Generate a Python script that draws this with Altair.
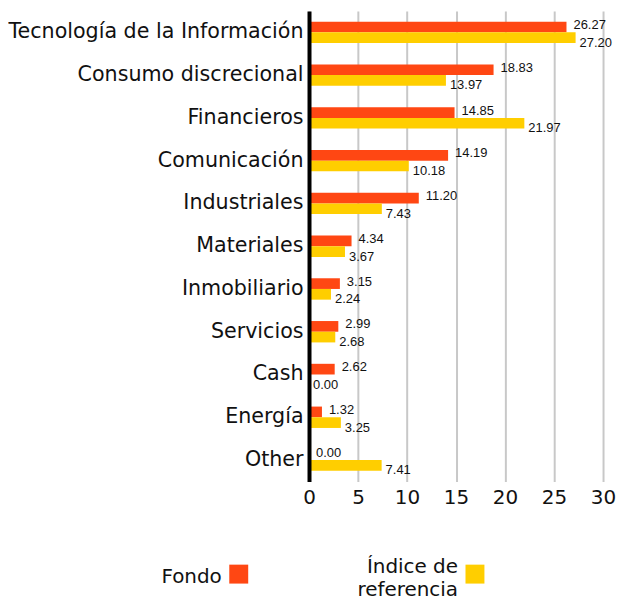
import altair as alt
import pandas as pd

categories = ["Tecnología de la Información", "Consumo discrecional", "Financieros",
              "Comunicación", "Industriales", "Materiales", "Inmobiliario",
              "Servicios", "Cash", "Energía", "Other"]
fondo = [26.27, 18.83, 14.85, 14.19, 11.20, 4.34, 3.15, 2.99, 2.62, 1.32, 0.00]
indice = [27.20, 13.97, 21.97, 10.18, 7.43, 3.67, 2.24, 2.68, 0.00, 3.25, 7.41]
series_names = ["Fondo", "Índice de referencia"]
series_legend_text = ["Fondo", "Índice de\nreferencia"]
series_colors = ["#FF4713", "#FFCE00"]
x_ticks = [0, 5, 10, 15, 20, 25, 30]

rows = []
for c, f, i in zip(categories, fondo, indice):
    rows.append({"cat": c, "series": series_names[0], "value": f, "label": f"{f:.2f}"})
    rows.append({"cat": c, "series": series_names[1], "value": i, "label": f"{i:.2f}"})
df = pd.DataFrame(rows)

FONT = "DejaVu Sans"
TXT = "#111111"

color = alt.Color("series:N", scale=alt.Scale(domain=series_names, range=series_colors), legend=None)
y = alt.Y("cat:N", sort=categories,
          scale=alt.Scale(paddingInner=0.5, paddingOuter=0.25),
          axis=alt.Axis(title=None, labelFont=FONT, labelFontSize=20.7, labelColor=TXT,
                        labelPadding=6, ticks=False, domain=True, domainColor="#000000",
                        domainWidth=4, labelLimit=400, minExtent=301, maxExtent=301,
                        zindex=1, grid=False))
x = alt.X("value:Q", scale=alt.Scale(domain=[0, 30], nice=False),
          axis=alt.Axis(values=x_ticks, title=None, labelFont=FONT, labelFontSize=20,
                        labelColor=TXT, grid=True, gridColor="#c8c8c8", gridWidth=2,
                        domain=False, ticks=False, labelPadding=6, labelFlush=False))
yoff = alt.YOffset("series:N", sort=series_names, scale=alt.Scale(paddingInner=0, paddingOuter=0))

base = alt.Chart(df)
bars = base.mark_bar().encode(x=x, y=y, yOffset=yoff, color=color)
lab_f = base.transform_filter(alt.datum.series == series_names[0]).mark_text(
    align="left", baseline="middle", dx=7, dy=-2, font="Liberation Sans", fontSize=13, color=TXT
).encode(x="value:Q", y=alt.Y("cat:N", sort=categories), yOffset=yoff, text="label:N")
lab_i = base.transform_filter(alt.datum.series == series_names[1]).mark_text(
    align="left", baseline="middle", dx=4, dy=5, font="Liberation Sans", fontSize=13, color=TXT
).encode(x="value:Q", y=alt.Y("cat:N", sort=categories), yOffset=yoff, text="label:N")

main = alt.layer(bars, lab_f, lab_i).properties(width=295, height=472)

leg_df = pd.DataFrame({"series": series_names, "text": series_legend_text})
lx = alt.X("series:N", sort=series_names,
           scale=alt.Scale(domain=series_names, range=[-70.5, 166.5], padding=0), axis=None)
leg_sq = alt.Chart(leg_df).mark_square(size=361, opacity=1).encode(
    x=lx, y=alt.value(47), color=color)
leg_t1 = alt.Chart(leg_df).transform_filter(alt.datum.series == series_names[0]).mark_text(
    align="right", baseline="middle", dx=-17, dy=3, font=FONT, fontSize=20, color=TXT
).encode(x=lx, y=alt.value(47), text="text:N")
leg_t2 = alt.Chart(leg_df).transform_filter(alt.datum.series == series_names[1]).mark_text(
    align="right", baseline="middle", dx=-17, dy=-7, font=FONT, fontSize=20, color=TXT,
    lineBreak="\n", lineHeight=23
).encode(x=lx, y=alt.value(47), text="text:N")
legend = alt.layer(leg_sq, leg_t1, leg_t2).properties(width=295, height=56)

chart = alt.vconcat(main, legend, spacing=20).properties(
    padding={"left": 0, "top": 2, "right": 0, "bottom": 0}
).configure_view(strokeWidth=0)

chart.save("out.html", embed_options={"renderer": "svg", "actions": False})
